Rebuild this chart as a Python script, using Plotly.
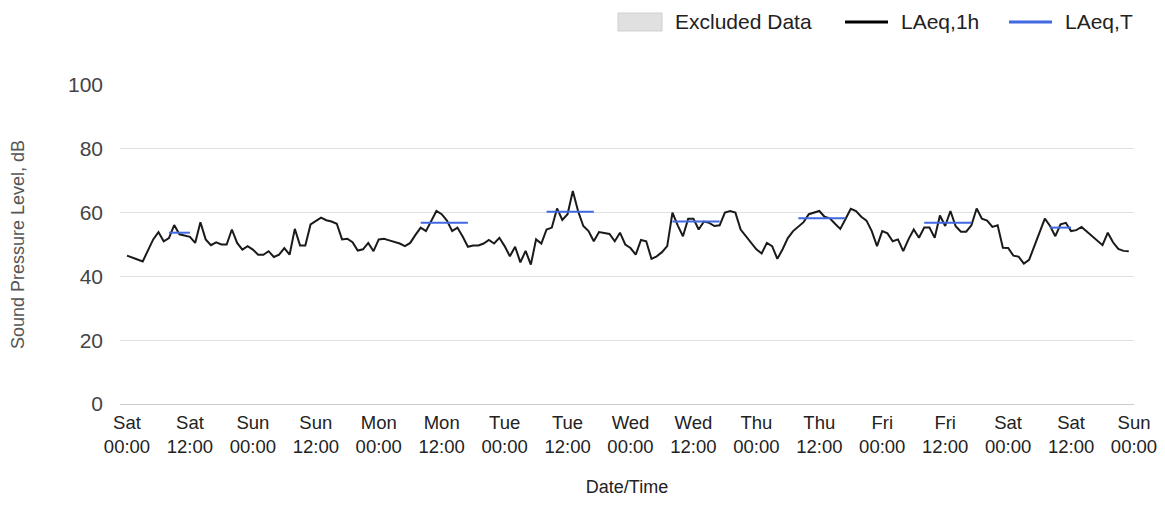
import pandas as pd
import plotly.graph_objects as go

# ---------------- data ----------------
START = "2023-01-07 00:00"   # a Saturday
END = "2023-01-15 00:00"     # following Sunday 00:00

LAEQ_1H = [
    46.5, 45.8, 45.3, 44.7, 47.9, 51.6, 53.9, 51.0, 52.0, 56.1, 53.2, 52.8,
    52.4, 50.5, 57.0, 51.6, 49.8, 50.7, 50.0, 50.0, 54.7, 50.5, 48.4, 49.5,
    48.4, 46.8, 46.8, 47.9, 46.1, 46.8, 48.9, 46.8, 54.9, 49.7, 49.7, 56.3,
    57.4, 58.4, 57.6, 57.2, 56.5, 51.6, 51.8, 50.7, 48.1, 48.5, 50.5, 47.9,
    51.6, 51.8, 51.3, 50.8, 50.3, 49.5, 50.5, 53.0, 55.3, 54.2, 57.5, 60.5,
    59.5, 57.5, 54.2, 55.3, 52.5, 49.3, 49.7, 49.7, 50.3, 51.4, 50.3, 52.1,
    49.5, 46.3, 49.3, 44.4, 48.0, 43.7, 51.6, 50.3, 54.7, 55.3, 61.3, 57.7,
    59.5, 66.8, 60.5, 55.8, 54.2, 51.0, 53.9, 53.5, 53.3, 51.0, 53.7, 50.0,
    48.9, 46.8, 51.4, 51.0, 45.5, 46.3, 47.6, 49.5, 60.0, 56.0, 52.6, 58.1,
    58.1, 54.7, 57.2, 56.8, 55.8, 56.0, 60.0, 60.5, 60.0, 54.7, 52.6, 50.5,
    48.5, 47.2, 50.5, 49.5, 45.5, 48.5, 52.0, 54.2, 55.5, 57.0, 59.5, 60.0,
    60.5, 58.7, 58.2, 56.5, 54.9, 58.0, 61.2, 60.5, 58.7, 57.5, 54.2, 49.5,
    54.2, 53.5, 51.0, 51.6, 47.9, 51.6, 54.7, 52.1, 55.3, 55.3, 52.1, 59.1,
    55.8, 60.5, 55.7, 54.0, 54.0, 56.0, 61.3, 58.1, 57.5, 55.5, 56.0, 49.0,
    48.9, 46.5, 46.2, 44.0, 45.2, 49.5, 54.0, 58.1, 55.8, 52.6, 56.3, 56.8,
    54.2, 54.5, 55.5, 54.0, 52.5, 51.0, 49.8, 53.7, 50.7, 48.6, 48.0, 47.9,
]

LAEQ_T_START = ["2023-01-07 08:00", "2023-01-09 08:00", "2023-01-10 08:00",
                "2023-01-11 08:00", "2023-01-12 08:00", "2023-01-13 08:00",
                "2023-01-14 08:00"]
LAEQ_T_END = ["2023-01-07 12:00", "2023-01-09 17:00", "2023-01-10 17:00",
              "2023-01-11 17:00", "2023-01-12 17:00", "2023-01-13 17:00",
              "2023-01-14 12:00"]
LAEQ_T_VALUES = [53.7, 56.8, 60.3, 57.2, 58.2, 56.8, 55.3]

Y_TICKS = [0, 20, 40, 60, 80, 100]
LEGEND_LABELS = ["Excluded Data", "LAeq,1h", "LAeq,T"]
X_TITLE = "Date/Time"
Y_TITLE = "Sound Pressure Level, dB"

# ---------------- build ----------------
FONT = "Liberation Sans, Arial, sans-serif"
OFF = 8                         # page body margin of the html page
W, H = 1165 - OFF, 506 - OFF
ML, MT = 120 - OFF, 85 - OFF
PW, PH = 1014, 319
MR, MB = W - ML - PW, H - MT - PH

hours = pd.date_range(START, periods=len(LAEQ_1H), freq="h")

tx, ty = [], []
for s, e, v in zip(LAEQ_T_START, LAEQ_T_END, LAEQ_T_VALUES):
    seg = pd.date_range(s, e, freq="h")
    tx += list(seg) + [None]
    ty += [v] * len(seg) + [None]

fig = go.Figure()
fig.add_trace(go.Scatter(x=hours, y=LAEQ_1H, mode="lines", name=LEGEND_LABELS[1],
                         line=dict(color="#1a1a1a", width=2), showlegend=False))
fig.add_trace(go.Scatter(x=tx, y=ty, mode="lines", name=LEGEND_LABELS[2],
                         line=dict(color="#4169e1", width=2), showlegend=False,
                         connectgaps=False))

x0 = pd.Timestamp(START) - pd.Timedelta(minutes=80)


def px(x):  # reference-screen pixel -> paper x
    return (x - OFF - ML) / PW


def py(y):  # reference-screen pixel -> paper y
    return (ML * 0 + MT + PH - (y - OFF)) / PH


shapes = [
    dict(type="rect", xref="paper", yref="paper", x0=px(618), x1=px(662), y0=py(31), y1=py(13),
         fillcolor="#e0e0e0", line=dict(color="#cfcfcf", width=1), layer="above"),
    dict(type="line", xref="paper", yref="paper", x0=px(845), x1=px(888), y0=py(22), y1=py(22),
         line=dict(color="#000000", width=3)),
    dict(type="line", xref="paper", yref="paper", x0=px(1009), x1=px(1052), y0=py(22), y1=py(22),
         line=dict(color="#4169e1", width=3)),
]
annotations = []
for label, xpos in zip(LEGEND_LABELS, [673, 899, 1063]):
    annotations.append(dict(text=label, xref="paper", yref="paper", x=px(xpos), y=py(22),
                            xanchor="left", yanchor="middle", showarrow=False,
                            font=dict(family=FONT, size=21, color="#222222")))

fig.update_layout(
    width=W, height=H,
    margin=dict(l=ML, r=MR, t=MT, b=MB, autoexpand=False),
    paper_bgcolor="white", plot_bgcolor="white",
    font=dict(family=FONT, size=21, color="#222222"),
    shapes=shapes, annotations=annotations,
    showlegend=False,
)
fig.update_xaxes(
    range=[x0, pd.Timestamp(END)],
    tick0=START, dtick=12 * 3600 * 1000, tickformat="%a<br>%H:%M",
    showgrid=False, zeroline=False, showline=False, ticks="",
    tickfont=dict(family=FONT, size=18.5, color="#222222"),
    ticklabelstandoff=5,
    title=dict(text=X_TITLE, font=dict(family=FONT, size=18, color="#222222"), standoff=24),
)
fig.update_yaxes(
    range=[0, 100], tickvals=Y_TICKS,
    showgrid=True, gridcolor="#e0e0e0", gridwidth=1,
    zeroline=True, zerolinecolor="#cccccc", zerolinewidth=1,
    showline=False, ticks="",
    tickfont=dict(family=FONT, size=21, color="#444444"),
    ticklabelstandoff=16,
    title=dict(text=Y_TITLE, font=dict(family=FONT, size=18, color="#555555"), standoff=38),
)

fig.write_html("out.html")
